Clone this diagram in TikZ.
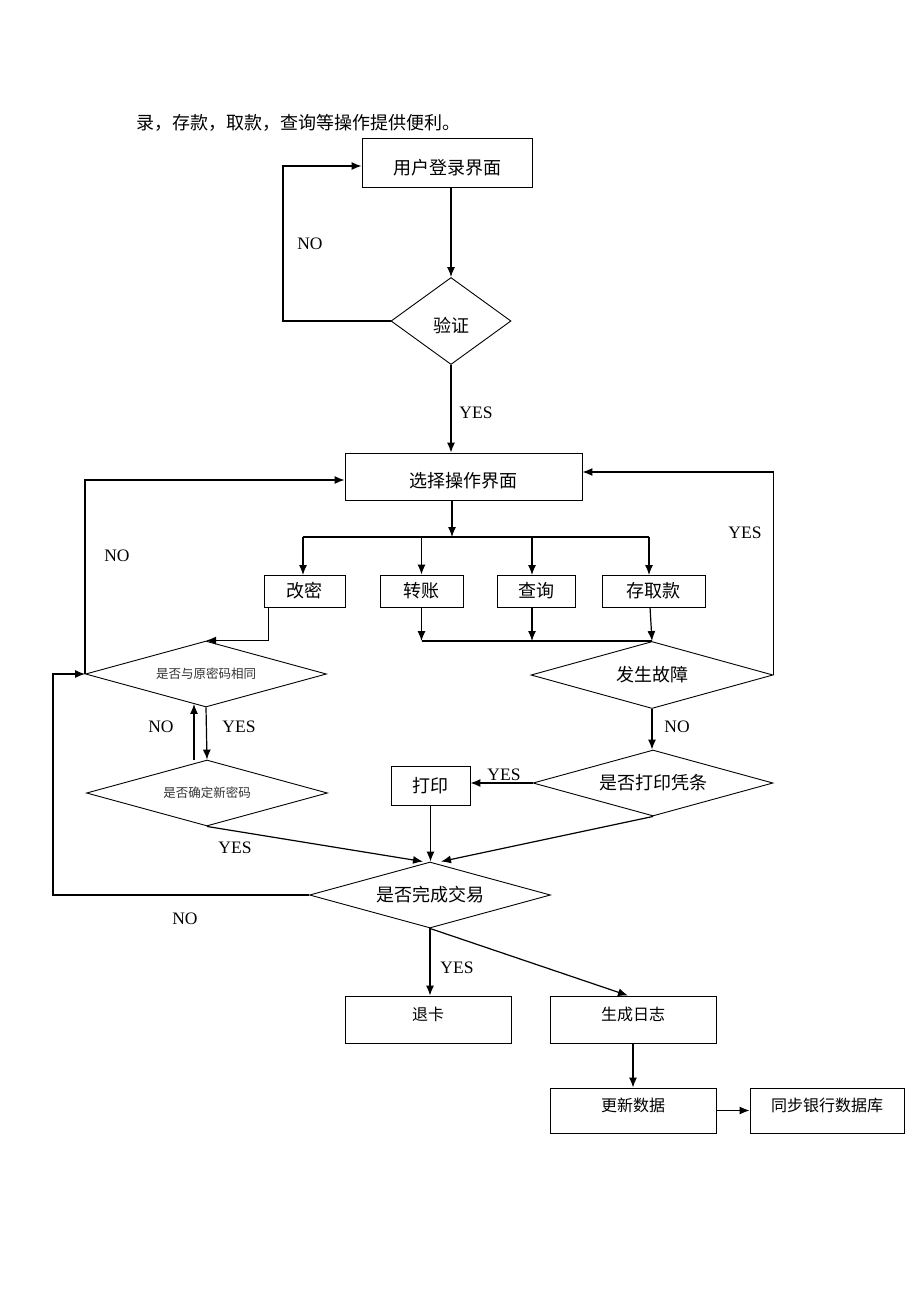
\documentclass[tikz,border=0pt]{standalone}
\usepackage{fontspec}
\setmainfont{Liberation Serif}
\newfontfamily\cjk{Noto Sans CJK SC}
\usetikzlibrary{shapes.geometric,arrows.meta,calc}
\begin{document}
\begin{tikzpicture}[x=1pt,y=-1pt,
  line width=1.2pt,
  arr/.style={-{Latex[length=10pt,width=8pt]}},
  box/.style={draw, line width=0.9pt, rectangle, inner sep=0pt, font=\cjk\fontsize{18}{20}\selectfont},
  sbox/.style={box, font=\cjk\fontsize{16}{18}\selectfont, text depth=11pt},
  dia/.style={draw, diamond, aspect=3.65, line width=0.9pt, inner sep=0pt, minimum width=241pt, minimum height=66pt, font=\cjk\fontsize{18}{20}\selectfont},
  sdia/.style={dia, font=\cjk\fontsize{12.5}{14}\selectfont, text=black!80},
  lab/.style={font=\fontsize{17.5}{20}\selectfont, inner sep=0pt}
]
\fill[white] (0,0) rectangle (920,1302);
\useasboundingbox (0,0) rectangle (920,1302);

\node[anchor=west, inner sep=0pt, font=\cjk\fontsize{18}{20}\selectfont] (intro) at (136,123) {录，存款，取款，查询等操作提供便利。};

% nodes
\node[box, minimum width=170pt, minimum height=49pt, text height=25pt] (login) at (447,162.5) {用户登录界面};
\node[dia, aspect=1.38, minimum width=120pt, minimum height=87pt, text height=24pt] (verify) at (451,321) {验证};
\node[box, minimum width=237pt, minimum height=47pt, text height=24pt] (select) at (463.5,476.5) {选择操作界面};

\node[box, minimum width=81pt, minimum height=32pt] (gaimi) at (304.5,591) {改密};
\node[box, minimum width=83pt, minimum height=32pt] (zhuan) at (421.5,591) {转账};
\node[box, minimum width=78pt, minimum height=32pt] (cha) at (536,591) {查询};
\node[box, minimum width=103pt, minimum height=32pt] (cun) at (653.5,591) {存取款};

\node[dia, minimum width=242pt, minimum height=67pt] (fault) at (652,675) {发生故障};
\node[sdia] (pw1) at (206,674) {是否与原密码相同};
\node[sdia] (pw2) at (207,793) {是否确定新密码};
\node[dia, minimum width=240pt] (print) at (653,783) {是否打印凭条};
\node[box, minimum width=79pt, minimum height=39pt] (dayin) at (430.5,785.5) {打印};
\node[dia] (trade) at (430,895) {是否完成交易};

\node[sbox, minimum width=166pt, minimum height=47pt] (tuika) at (428,1019.5) {退卡};
\node[sbox, minimum width=166pt, minimum height=47pt] (log) at (633,1019.5) {生成日志};
\node[sbox, minimum width=166pt, minimum height=45pt] (update) at (633,1110.5) {更新数据};
\node[sbox, minimum width=154pt, minimum height=45pt] (sync) at (827,1110.5) {同步银行数据库};

% connectors
\draw[arr] (verify.north |- login.south) -- (verify.north);
\draw[arr] (verify.west) -| (283,166) -- (login.west |- 0,166);
\node[lab] (no1) at (310,244) {NO};
\draw[arr] (verify.south) -- (verify.south |- select.north);
\node[lab] (yes1) at (476,413) {YES};

\coordinate (bus) at (452,537);
\draw[arr] (bus |- select.south) -- (bus);
\draw (303,537) -- (649,537);
\draw[arr] (303,537) -- (303,575);
\draw[arr] (zhuan.north |- bus) -- (zhuan.north);
\draw[arr] (532,537) -- (532,575);
\draw[arr] (649,537) -- (649,575);

\draw[arr] (zhuan.south) -- (zhuan.south |- fault.north);
\draw[arr] (532,607) -- (532,641);
\draw[arr] (650,607) -- (fault.north);
\draw (zhuan.south |- fault.north) -- (fault.north);

\draw[arr] (fault.east) |- ($(select.east)+(0,-4.5)$);
\node[lab] (yes2) at (745,533) {YES};

\draw[arr] ($(gaimi.south west)+(5,0)$) |- (pw1.north);
\draw[arr] (pw1.west) |- ($(select.west)+(0,3.5)$);
\node[lab] (no2) at (117,556) {NO};

\draw[arr] (pw1.south) -- (pw2.north);
\draw[arr] ($(pw2.north)+(-13,0)$) -- ($(pw1.south)+(-12,-3.5)$);
\node[lab] (no3) at (161,727) {NO};
\node[lab] (yes3) at (239,727) {YES};

\draw[arr] (pw2.south) -- ($(trade.north)+(-7,0)$);
\node[lab] (yes4) at (235,848) {YES};

\draw[arr] (trade.west) -- ++(-256,0) |- (pw1.west);
\node[lab] (no4) at (185,919) {NO};

\draw[arr] (fault.south) -- (fault.south |- print.north);
\node[lab] (no5) at (677,727) {NO};
\draw[arr] (print.west) -- (print.west -| dayin.east);
\node[lab] (yes5) at (504,775) {YES};
\draw[arr] (dayin.south) -- (dayin.south |- trade.north);
\draw[arr] (print.south) -- ($(trade.north)+(11,0)$);

\draw[arr] (trade.south) -- (trade.south |- tuika.north);
\node[lab] (yes6) at (457,968) {YES};
\draw[arr] (trade.south) -- ($(log.north)+(-5,0)$);
\draw[arr] (log.south) -- (update.north);
\draw[arr] (update.east) -- (sync.west);
\end{tikzpicture}
\end{document}
